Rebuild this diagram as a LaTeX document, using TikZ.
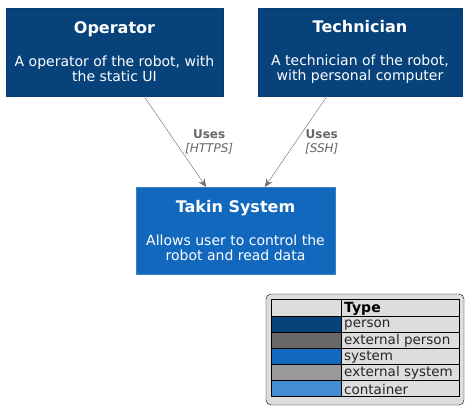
\documentclass[tikz,border=0pt]{standalone}
\usepackage{fontspec}
\setmainfont{DejaVu Sans}
\usepackage{tikz}
\usetikzlibrary{positioning}
\usetikzlibrary{arrows.meta}

\definecolor{personblue}{HTML}{08427B}
\definecolor{personline}{HTML}{073B6F}
\definecolor{extperson}{HTML}{686868}
\definecolor{systemblue}{HTML}{1168BD}
\definecolor{systemline}{HTML}{3C7FC0}
\definecolor{extsystem}{HTML}{999999}
\definecolor{containerblue}{HTML}{438DD5}
\definecolor{relgray}{HTML}{666666}
\definecolor{legendbg}{HTML}{DDDDDD}

\begin{document}
\begin{tikzpicture}[x=1pt,y=-1pt,
    person/.style={draw=personline, fill=personblue, text=white, align=center,
        minimum height=88pt, inner sep=0pt, font=\fontsize{14}{15}\selectfont},
    softsys/.style={draw=systemline, fill=systemblue, text=white, align=center,
        minimum height=87pt, inner sep=0pt, font=\fontsize{14}{15}\selectfont},
    uses/.style={draw=relgray, -{Stealth[length=8pt,width=7pt,inset=3pt]}},
    rellabel/.style={text=relgray, align=center, inner sep=0pt, font=\fontsize{12}{14}\selectfont}
]

    \useasboundingbox (0,0) rectangle (474,414);

    % actors
    \node[person, minimum width=217pt] (operator) at (114.5,52)
        {{\fontsize{16}{17}\selectfont\bfseries Operator}\\[18pt]
         A operator of the robot, with\\the static UI};
    \node[person, minimum width=204pt] (technician) at (360,52)
        {{\fontsize{16}{17}\selectfont\bfseries Technician}\\[18pt]
         A technician of the robot,\\with personal computer};

    % system
    \node[softsys, minimum width=199pt] (takin) at (235.5,230.5)
        {{\fontsize{16}{17}\selectfont\bfseries Takin System}\\[18pt]
         Allows user to control the\\robot and read data};

    % relations
    \draw[uses] ([xshift=29.5pt]operator.south) -- ([xshift=-29.5pt]takin.north)
        node[rellabel, pos=0.5, right=10pt] {\textbf{Uses}\\\textit{[HTTPS]}};
    \draw[uses] ([xshift=-33pt]technician.south) -- ([xshift=29.5pt]takin.north)
        node[rellabel, pos=0.5, right=9pt] {\textbf{Uses}\\\textit{[SSH]}};

    % legend
    \draw[fill=legendbg, rounded corners=5pt] (266,294) rectangle (464,405);
    \node[anchor=west, inner sep=0pt, font=\fontsize{14}{15}\selectfont\bfseries] (typehead) at (344,309) {Type};
    \foreach \col/\txt [count=\i] in {personblue/person, extperson/external person,
        systemblue/system, extsystem/external system, containerblue/container} {
        \fill[\col] (271,300+16*\i) rectangle (341,316+16*\i);
        \node[anchor=west, inner sep=0pt, text=black!85, font=\fontsize{13.5}{15}\selectfont] (row\i) at (344,309+16*\i) {\txt};
    }
    \draw (271,299) rectangle (459,396);
    \draw (341,299) -- (341,396);
    \foreach \y in {316,332,348,364,380}
        \draw (271,\y) -- (459,\y);

\end{tikzpicture}
\end{document}
